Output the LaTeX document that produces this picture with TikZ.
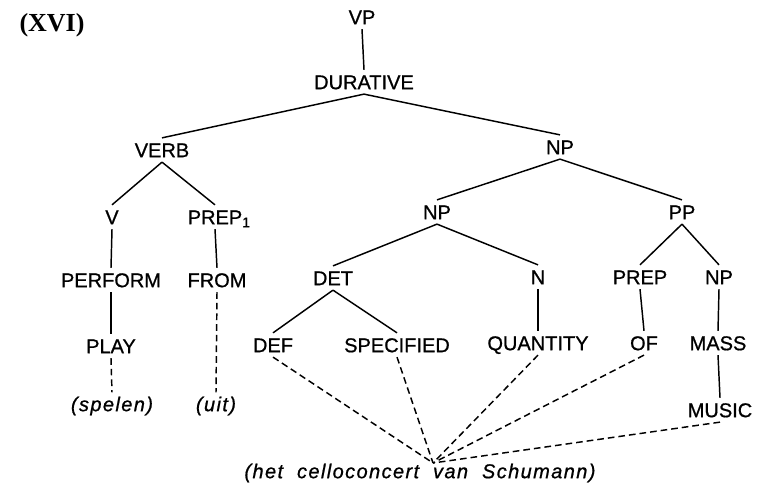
\documentclass[tikz,border=0pt]{standalone}
\usepackage{fontspec}
\setmainfont{Liberation Serif}
\setsansfont[FakeBold=0.8]{Liberation Sans}
\newfontfamily\glossa[LetterSpace=7,WordSpace=2,FakeBold=0.8]{Liberation Sans}
\usetikzlibrary{calc}

\tikzset{
    cat/.style={font=\sffamily\fontsize{15}{17}\selectfont, inner xsep=2pt, inner ysep=3.5pt, text height=10.8pt, text depth=0pt},
    gloss/.style={font=\glossa\itshape\fontsize{15}{17}\selectfont, inner sep=3pt},
    ramo/.style={line width=1.1pt},
    traccia/.style={line width=1.1pt, dash pattern=on 5pt off 3pt},
}

\begin{document}
\begin{tikzpicture}[x=0.75pt, y=-0.75pt]
    \useasboundingbox (0,0) rectangle (759,484);
    % Nodi
    \node[font=\bfseries\fontsize{19.5}{21}\selectfont] (num) at (52,25) {(XVI)};
    \node[cat] (vp) at (362,17) {VP};
    \node[cat] (dur) at (364,82) {DURATIVE};
    \node[cat] (verb) at (162,150) {VERB};
    \node[cat] (np) at (560,147) {NP};
    \node[cat] (v) at (112,217) {V};
    \node[cat] (prepa) at (215,217) {PREP\rlap{\textsubscript{1}}};
    \node[cat] (npb) at (437,212) {NP};
    \node[cat] (pp) at (682,212) {PP};
    \node[cat] (perform) at (111,280) {PERFORM};
    \node[cat] (from) at (217,280) {FROM};
    \node[cat] (det) at (333,278) {DET};
    \node[cat] (n) at (538,277) {N};
    \node[cat] (prep) at (640,277) {PREP};
    \node[cat] (npc) at (719,277) {NP};
    \node[cat] (play) at (111,346) {PLAY};
    \node[cat] (def) at (273,345) {DEF};
    \node[cat] (spec) at (397,345) {SPECIFIED};
    \node[cat] (quant) at (538,343) {QUANTITY};
    \node[cat] (of) at (644,343) {OF};
    \node[cat] (mass) at (718,343) {MASS};
    \node[cat] (music) at (720,410) {MUSIC};
    \node[gloss] (spelen) at (112,406) {(spelen)};
    \node[gloss] (uit) at (216,406) {(uit)};
    \node[gloss] (schumann) at (420,473) {(het celloconcert van Schumann)};
    \coordinate (conv) at (433,463);
    % Rami
    \foreach \a/\b in {vp/dur, dur/verb, dur/np, verb/v, verb/prepa, np/npb, np/pp,
        v/perform, prepa/from, perform/play, npb/det, npb/n, pp/prep, pp/npc,
        det/def, det/spec, n/quant, prep/of, npc/mass, mass/music}{
        \draw[ramo] (\a.south) -- (\b.north);
    }
    % Tracce
    \draw[traccia] (play.south) -- (spelen.north);
    \draw[traccia] (from.south) -- (uit.north);
    \foreach \n in {def, spec, quant, of, music}{
        \draw[traccia] (\n.south) -- (conv);
    }
\end{tikzpicture}
\end{document}
